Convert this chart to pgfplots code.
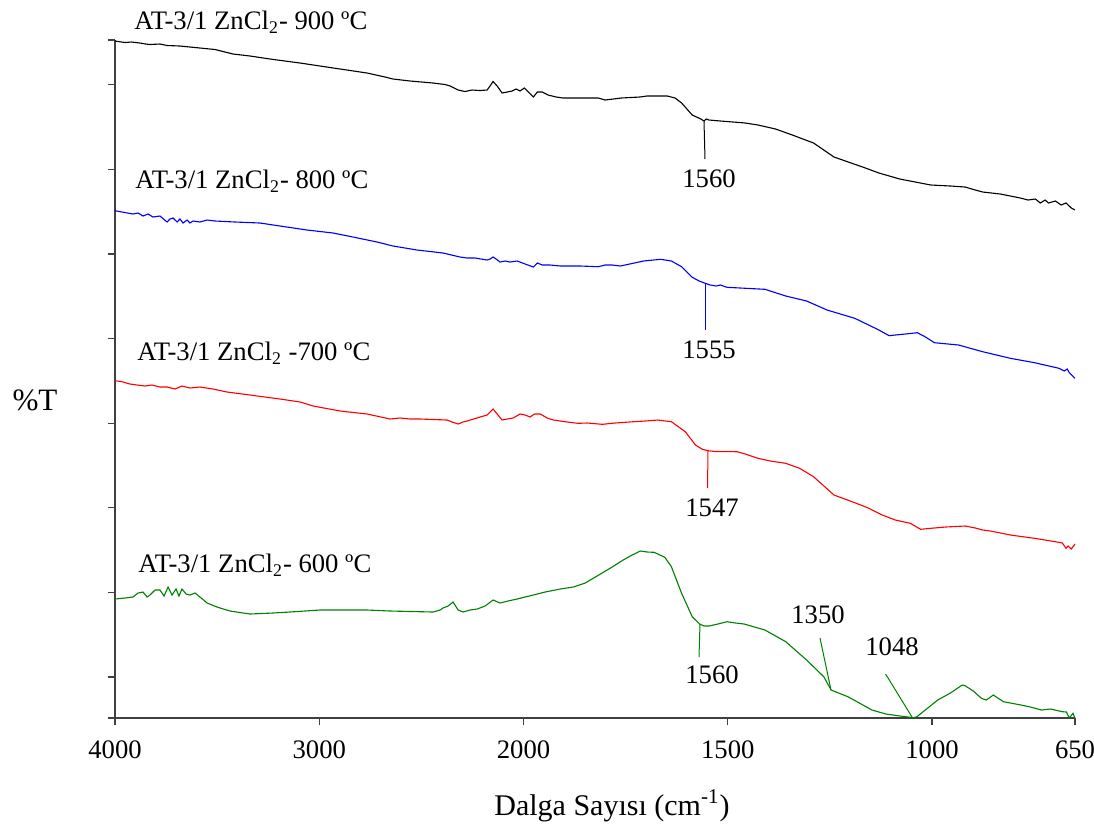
\documentclass[border=0pt]{standalone}
\usepackage{pgfplots}
\pgfplotsset{compat=1.18}
\usepackage{pgfplotstable}
\usepackage{fontspec}
\setmainfont{Liberation Serif}
\definecolor{cblue}{RGB}{0,0,255}
\definecolor{cred}{RGB}{255,0,0}
\definecolor{cgreen}{RGB}{0,128,0}

% wavenumber (cm^-1)  vs  %T (offset, arbitrary units)
\pgfplotstableread{
wn T
4000 677
3951 675.5
3920 676
3878 675
3850 674
3829 673.5
3780 674
3745 672.5
3682 672
3584 670
3510 668.5
3422 664
3339 662
3241 659
3168 657
3094 655
2996 652
2898 649
2766 645
2678 641
2639 639
2555 637
2443 635
2384 633.5
2359 632
2320 628
2286 626.5
2252 628
2213 627.5
2178 628
2164 632
2149 636.5
2129 632
2105 625
2080 626
2056 627
2036 629
2017 627
1998 630
1988 626
1976 621
1966 626
1954 626
1940 623
1920 621
1903 620
1862 620
1817 620
1800 618
1761 620
1715 621
1698 622
1648 622
1629 620
1613 615
1587 603
1566 599
1558 597
1553 599
1546 598
1518 597
1487 596
1457 595
1426 593
1383 589
1342 583
1290 575
1240 561
1198 555
1163 550
1130 545
1079 539
1041 536
1003 533
955 532
919 531
894 528
876 526
833 524
808 522
784 520
765 518
747 519
735 515
723 518
715 515
698 517
684 513
672 515
659 510
650 508
}\blackdata

\pgfplotstableread{
wn T
4000 507.3
3966 506
3912 504
3887 505
3863 502
3838 504
3814 501
3780 502
3745 496
3731 499
3716 500
3696 496
3682 499
3667 495
3647 498
3633 495
3618 497
3584 496
3549 498
3510 497
3412 496
3290 495
3192 492
3060 488
2932 485
2835 481
2717 476
2639 472
2521 468
2394 465
2311 461
2276 460
2237 460
2178 458
2164 459
2149 461
2134 459
2115 456
2090 457
2066 456
2031 457
1996 454
1976 451
1966 455
1954 453
1935 453
1910 452
1861 452
1817 451.3
1800 453
1783 453
1763 452
1740 454
1706 457
1664 458.7
1638 457
1613 451.3
1587 440.7
1570 437
1555 434.7
1543 433
1528 432
1518 433
1502 430.7
1469 430
1409 428.7
1358 422
1307 417
1257 408
1189 399.7
1130 388
1105 382.3
1090 383
1065 384
1036 385.3
1016 381
994 375.3
935 373
876 366.3
808 359.7
749 355.3
689 349.7
676 347
669 349
664 345.3
650 339.7
}\bluedata

\pgfplotstableread{
wn T
4000 337.3
3966 336.3
3927 334
3892 333
3853 332
3819 333
3780 331
3745 331
3706 329
3672 332
3633 330
3584 331
3520 329
3452 326
3339 323
3192 319
3094 316
3030 312
2898 307
2766 304
2653 299
2604 300
2555 299
2506 299
2374 298
2350 296
2320 294
2296 296
2276 297
2213 301
2178 303
2164 306
2149 309
2129 304
2105 298
2080 299
2051 300
2017 304
1996 303
1984 301
1973 304
1959 304
1942 300
1927 298
1893 296
1867 294.7
1844 295
1807 293.7
1776 295
1731 296.3
1702 297
1672 298
1638 296.3
1604 286.3
1579 273
1562 268.7
1548 267.3
1531 266.5
1477 266.3
1457 264
1426 259.7
1396 257
1358 254.7
1324 249.7
1290 241.3
1240 223
1189 215.3
1156 210
1122 203
1090 198
1053 194.7
1028 188.7
1003 189.7
967 191
919 192
894 190
876 188
857 187
808 183
749 179.7
723 178
698 176.3
681 175
672 169.7
667 172
659 169
650 174
}\reddata

\pgfplotstableread{
wn T
4000 119
3951 120
3912 121
3887 125
3863 126
3843 121
3829 123
3804 128
3780 128
3760 122
3740 131
3721 123
3701 129
3687 122
3672 129
3652 124
3633 123
3608 125
3584 121
3549 115
3501 111
3437 107
3339 104
3227 105
3143 106
2996 108
2932 108
2766 108
2653 107
2443 106
2408 108
2394 110
2369 112
2345 116
2320 108
2296 106
2262 108
2227 109
2188 112
2149 118
2115 115
2076 117
2031 119
1996 121
1976 123
1947 126
1910 129
1878 131
1849 135
1824 141
1783 151
1756 158
1734 163
1714 167
1697 166
1680 165.7
1654 160.7
1638 151.3
1613 124.7
1587 101.3
1569 94
1558 92
1546 92
1524 94
1502 96.3
1481 95
1460 94
1409 88
1358 76.3
1307 58
1265 41.3
1247 28
1206 21.3
1147 8
1113 4
1078 2
1053 0.7
1047 0
1037 1.3
986 18
955 25
926 33
919 32.3
899 27
879 19.7
867 18
850 23
825 16.3
782 13
759 11
732 8
710 9
681 6.3
671 6
664 0
655 4.7
650 0
}\greendata

\begin{document}
\begin{tikzpicture}
\useasboundingbox (0,0) rectangle (492.3pt,-373.05pt);
\begin{axis}[
  at={(51.75pt,-323.1pt)}, anchor=south west,
  scale only axis, width=432pt, height=305.1pt,
  xmin=0, xmax=4.7, ymin=0, ymax=678,
  axis x line=bottom, axis y line=left,
  axis line style={-, line width=0.7pt, color=black!75},
  xtick={0,1,2,3,4,4.7},
  xticklabels={4000,3000,2000,1500,1000,650},
  ytick={0,41,125.6,210.2,294.8,379.4,464,548.6,633.2,678},
  yticklabels={},
  tick align=outside, major tick length=3.3pt,
  tick style={line width=0.6pt, color=black!75},
  xticklabel style={font=\fontsize{12}{14}\selectfont, text=black, yshift=-3.6pt},
  clip=false,
  every axis plot/.append style={line width=0.5pt},
]
\def\trafo{\thisrow{wn}>=2000 ? (4000-\thisrow{wn})/1000 : 2+(2000-\thisrow{wn})/500}
\addplot[black] table[x expr={\trafo}, y=T] {\blackdata};
\addplot[cblue] table[x expr={\trafo}, y=T] {\bluedata};
\addplot[cred] table[x expr={\trafo}, y=T] {\reddata};
\addplot[cgreen] table[x expr={\trafo}, y=T] {\greendata};
\end{axis}
\begin{scope}[x=0.45pt, y=-0.45pt, font=\fontsize{12}{14}\selectfont]
% series labels
\node[anchor=base west, inner sep=0] at (134,29) {AT-3/1 ZnCl\textsubscript{2}- 900 ºC};
\node[anchor=base west, inner sep=0] at (135,188) {AT-3/1 ZnCl\textsubscript{2}- 800 ºC};
\node[anchor=base west, inner sep=0] at (137,360) {AT-3/1 ZnCl\textsubscript{2} -700 ºC};
\node[anchor=base west, inner sep=0] at (138,572) {AT-3/1 ZnCl\textsubscript{2}- 600 ºC};
% peak leaders and labels
\draw[black, line width=0.45pt] (704,121) -- (705,159);
\node at (709,179) {1560};
\draw[cblue, line width=0.45pt] (705.3,283) -- (705.3,330);
\node at (709,350) {1555};
\draw[cred, line width=0.45pt] (708,451) -- (707.5,488);
\node at (712,508) {1547};
\draw[cgreen, line width=0.45pt] (700,624) -- (699,657);
\node at (712,675) {1560};
\draw[cgreen, line width=0.45pt] (820,638) -- (831,690);
\node at (818,615) {1350};
\draw[cgreen, line width=0.45pt] (885.6,674) -- (912.6,718);
\node at (892,647) {1048};
% axis titles
\node[font=\fontsize{14}{16}\selectfont] at (35,400) {\%T};
\node[anchor=base, inner sep=0, font=\fontsize{13.5}{16}\selectfont] at (612,815) {Dalga Sayısı (cm\textsuperscript{-1})};
\end{scope}
\end{tikzpicture}
\end{document}
